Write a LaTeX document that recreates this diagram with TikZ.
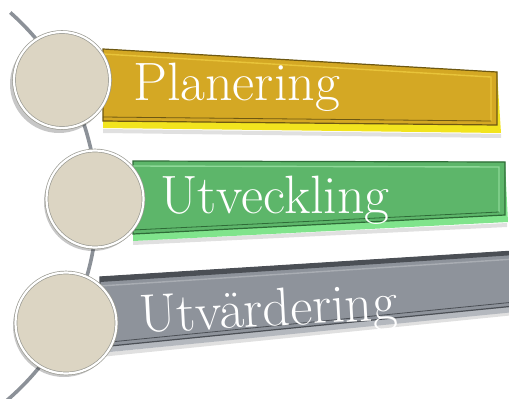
\documentclass[tikz,border=0pt]{standalone}
\usetikzlibrary{calc}
\definecolor{spinec}{HTML}{8C9198}
\definecolor{beige}{HTML}{DCD5C3}
\definecolor{ringc}{HTML}{9A9A92}
\definecolor{yface}{HTML}{D4A824}
\definecolor{ydark}{HTML}{6E5812}
\definecolor{ylip}{HTML}{F2E41E}
\definecolor{ylight}{HTML}{E8C43A}
\definecolor{gface}{HTML}{5DB66A}
\definecolor{gdark}{HTML}{2E6B37}
\definecolor{glip}{HTML}{80E48C}
\definecolor{glight}{HTML}{8ED898}
\definecolor{aface}{HTML}{8E939B}
\definecolor{adark}{HTML}{4B4F55}
\definecolor{alip}{HTML}{B4B8BE}
\definecolor{alight}{HTML}{A9ADB3}
\tikzset{
  spine/.style={draw=spinec, line width=3.6pt},
  circ/.style={circle, fill=beige, draw=ringc, double=white, double distance=2.2pt, line width=0.7pt, inner sep=0pt},
  cshadow/.style={fill=black, opacity=0.22},
  lbl/.style={text=white, font=\fontsize{54}{54}\selectfont, inner sep=0pt},
  bshadow/.style={fill=black, opacity=0.12}
}
\begin{document}
\begin{tikzpicture}[x=1pt,y=-1pt]
\useasboundingbox (0,0) rectangle (509,399);
\fill[white] (0,0) rectangle (509,399);
% spine arc
\draw[spine] plot[domain=-48.5:49.5,samples=90] ({-160+257*cos(\x)},{205+257*sin(\x)});
% bar 1 (yellow)
\fill[bshadow] (103,129) -- (501,134) -- (501,138) -- (103,133) -- cycle;
\fill[ylip] (103,49) -- (497,72) -- (501,133) -- (103,128) -- cycle;
\fill[yface, draw=ydark, line width=1.2pt] (103,49) -- (497,72) -- (497,125) -- (103,121) -- cycle;
\draw[ylight, line width=1.4pt] (103,54) -- (491,77) -- (491,121);
\draw[ydark, line width=0.8pt] (103,117) -- (491,121);
% bar 2 (green)
\fill[bshadow] (133,241) -- (507,223) -- (507,227) -- (133,245) -- cycle;
\fill[glip] (133,161) -- (505,162) -- (508,222) -- (133,241) -- cycle;
\fill[gface, draw=gdark, line width=1.2pt] (133,161) -- (505,162) -- (505,215) -- (133,234) -- cycle;
\draw[glight, line width=1.4pt] (133,166) -- (499,167) -- (499,212);
\draw[gdark, line width=0.8pt] (133,230) -- (499,212);
% bar 3 (grey)
\fill[bshadow] (100,353) -- (515,311) -- (515,315) -- (100,357) -- cycle;
\fill[alip] (100,277) -- (515,251) -- (515,312) -- (100,353) -- cycle;
\fill[aface, draw=adark, line width=1.2pt] (100,277) -- (515,251) -- (515,306) -- (100,347) -- cycle;
\fill[adark] (100,277) -- (515,251) -- (515,255) -- (100,282) -- cycle;
\draw[alight, line width=1.4pt] (100,286) -- (515,259);
\draw[adark, line width=0.8pt] (100,343) -- (515,302);
% labels
\node[lbl, anchor=base west] (t1) at (133,100) {Planering};
\node[lbl, anchor=base west] (t2) at (160,213) {Utveckling};
\node[lbl, anchor=base west, rotate=3] (t3) at (140,333) {Utvärdering};
% circles
\fill[cshadow] (59,84) circle (49);
\node[circ, minimum size=96pt] (c1) at (62,80) {};
\fill[cshadow] (93,202) circle (49);
\node[circ, minimum size=97pt] (c2) at (95,199) {};
\fill[cshadow] (64,326) circle (51);
\node[circ, minimum size=101pt] (c3) at (66,323) {};
\end{tikzpicture}
\end{document}
